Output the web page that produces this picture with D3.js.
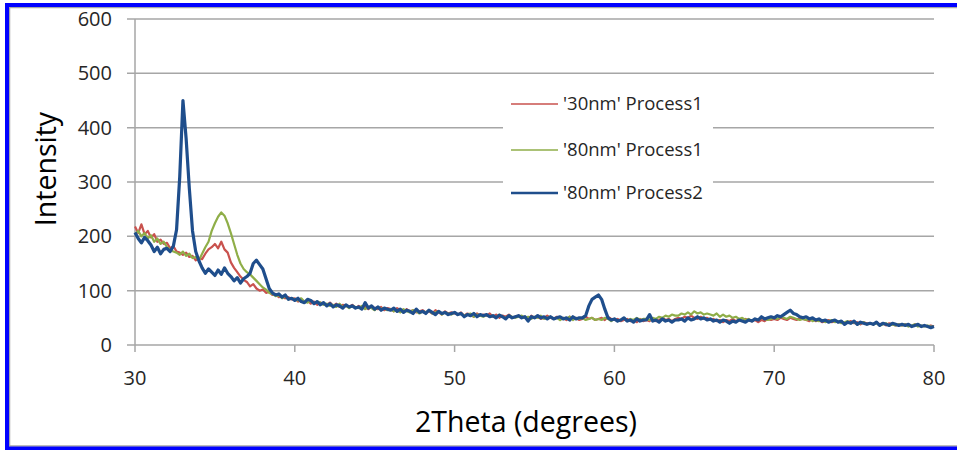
<!DOCTYPE html>
<html lang="en">
<head>
<meta charset="UTF-8">
<title>XRD Intensity</title>
<script src="https://d3js.org/d3.v7.min.js"></script>
<style>
  body { margin: 0; background: #fff; }
  svg { display: block; font-family: "Open Sans", Lato, sans-serif; }
  .grid line { stroke: #a6a6a6; stroke-width: 1.5px; }
  .tick-label { font-size: 20px; fill: #262626; }
  .axis-title { font-size: 28.5px; fill: #000; }
  .legend-label { font-size: 18.5px; fill: #262626; }
</style>
</head>
<body>
<svg id="chart" width="957" height="450"></svg>
<script>
// 2Theta grid: 30 .. 80 in steps of 0.2 degrees
const thetaStart = 30;
const thetaStep = 0.2;

const yTicks = [0, 100, 200, 300, 400, 500, 600];
const xTicks = [30, 40, 50, 60, 70, 80];

const seriesNames = ["'30nm' Process1", "'80nm' Process1", "'80nm' Process2"];

// '30nm' Process1
const red30p1 = [
  218, 206, 222, 204, 210, 198, 204, 190, 194, 186,
  188, 178, 182, 172, 170, 166, 170, 162, 164, 156,
  160, 158, 168, 176, 180, 186, 178, 190, 176, 170,
  152, 142, 134, 126, 120, 116, 108, 112, 104, 100,
  102, 96, 98, 92, 94, 88, 90, 86, 88, 84,
  86, 80, 84, 78, 82, 76, 80, 74, 78, 76,
  74, 78, 72, 76, 70, 74, 72, 70, 74, 68,
  72, 68, 70, 66, 72, 68, 66, 70, 64, 68,
  66, 62, 68, 64, 60, 66, 62, 64, 60, 62,
  64, 60, 62, 58, 64, 60, 56, 62, 58, 60,
  58, 56, 60, 54, 58, 56, 52, 58, 54, 56,
  54, 58, 52, 56, 50, 54, 52, 56, 50, 52,
  54, 50, 52, 48, 54, 50, 52, 48, 50, 54,
  50, 48, 52, 48, 50, 46, 52, 48, 50, 46,
  48, 52, 48, 50, 46, 48, 50, 46, 52, 48,
  46, 48, 44, 46, 48, 44, 46, 42, 48, 44,
  46, 44, 48, 44, 46, 50, 46, 48, 44, 48,
  50, 48, 52, 50, 54, 50, 48, 52, 48, 50,
  46, 48, 44, 46, 42, 46, 44, 48, 44, 46,
  44, 48, 46, 44, 46, 42, 46, 44, 48, 46,
  48, 46, 50, 48, 46, 50, 48, 46, 50, 48,
  46, 44, 48, 44, 46, 42, 44, 46, 42, 44,
  42, 44, 40, 42, 44, 40, 42, 38, 42, 40,
  40, 38, 42, 38, 40, 36, 40, 38, 36, 38,
  36, 38, 36, 34, 38, 36, 34, 36, 34, 36,
  34
];

// '80nm' Process1
const green80p1 = [
  204, 210, 200, 206, 196, 202, 190, 196, 186, 190,
  180, 176, 172, 170, 166, 172, 164, 168, 160, 162,
  156, 168, 180, 190, 210, 224, 236, 244, 238, 224,
  206, 186, 166, 150, 140, 134, 130, 124, 118, 112,
  106, 102, 96, 94, 90, 92, 86, 90, 84, 86,
  84, 82, 86, 80, 78, 82, 76, 80, 78, 74,
  76, 72, 74, 70, 76, 70, 72, 68, 72, 70,
  68, 72, 66, 70, 68, 64, 70, 66, 68, 64,
  66, 62, 64, 60, 66, 62, 60, 64, 62, 58,
  62, 60, 64, 58, 60, 62, 56, 60, 58, 56,
  60, 56, 58, 54, 56, 58, 52, 56, 54, 52,
  56, 52, 54, 50, 56, 52, 50, 54, 52, 50,
  52, 54, 50, 52, 48, 52, 50, 54, 48, 50,
  52, 48, 50, 46, 50, 48, 52, 46, 50, 48,
  50, 46, 48, 50, 46, 48, 46, 50, 48, 44,
  48, 44, 46, 50, 44, 48, 46, 50, 46, 48,
  48, 46, 50, 48, 52, 50, 54, 52, 56, 54,
  54, 58, 56, 60, 56, 62, 58, 60, 56, 58,
  56, 54, 58, 52, 56, 52, 54, 50, 52, 48,
  50, 46, 48, 44, 48, 46, 50, 48, 46, 48,
  50, 48, 52, 50, 48, 52, 50, 48, 46, 48,
  46, 48, 44, 46, 44, 46, 42, 44, 46, 42,
  44, 40, 42, 44, 40, 42, 38, 40, 42, 38,
  40, 38, 40, 36, 38, 40, 36, 38, 36, 38,
  36, 38, 34, 36, 38, 34, 36, 34, 36, 34,
  34
];

// '80nm' Process2
const blue80p2 = [
  207, 196, 188, 198, 192, 184, 172, 180, 168, 176,
  178, 172, 182, 212, 310, 450, 380, 288, 210, 172,
  155, 142, 132, 140, 134, 128, 138, 130, 142, 132,
  126, 118, 124, 114, 122, 126, 132, 150, 156, 148,
  140, 122, 104, 96, 92, 94, 88, 92, 84, 86,
  82, 86, 80, 78, 84, 82, 76, 80, 74, 78,
  72, 76, 70, 74, 72, 68, 74, 70, 72, 68,
  70, 66, 78, 68, 72, 66, 70, 64, 68, 66,
  64, 68, 62, 66, 60, 64, 62, 58, 66, 60,
  62, 58, 64, 60, 56, 62, 58, 60, 56, 58,
  60, 56, 58, 52, 56, 54, 58, 52, 56, 54,
  56, 52, 54, 50, 55, 52, 48, 54, 50, 52,
  54, 50, 52, 44, 52, 50, 54, 50, 52, 48,
  52, 48, 50, 52, 48, 50, 46, 52, 48, 50,
  50, 54, 72, 84, 88, 92, 84, 66, 50, 46,
  48, 44, 46, 50, 44, 46, 42, 48, 44, 46,
  46, 56, 44, 46, 42, 48, 44, 46, 42, 46,
  46, 48, 44, 50, 46, 48, 52, 48, 50, 46,
  48, 44, 46, 42, 46, 44, 40, 44, 42, 46,
  44, 42, 46, 44, 48, 46, 52, 48, 50, 52,
  50, 54, 52, 56, 60, 64, 58, 56, 52, 50,
  52, 48, 50, 46, 48, 44, 46, 42, 44, 46,
  42, 44, 38, 42, 40, 44, 38, 42, 40, 38,
  40, 38, 42, 36, 40, 38, 36, 40, 38, 36,
  38, 36, 38, 34, 36, 38, 34, 36, 34, 32,
  34
];

const colors = ["#c9524e", "#8fae48", "#1f4e8c"];
const widths = [2.2, 2.2, 3.2];

const svg = d3.select("#chart");
const margin = { top: 19, right: 23, bottom: 105, left: 135 };
const W = 957, H = 450;

const x = d3.scaleLinear().domain([30, 80]).range([margin.left, W - margin.right]);
const y = d3.scaleLinear().domain([0, 600]).range([H - margin.bottom, margin.top]);

// frame
svg.append("rect")
  .attr("x", 9.5).attr("y", 7.5).attr("width", 960).attr("height", 438.5)
  .attr("fill", "none").attr("stroke", "#a6a6a6").attr("stroke-width", 1.5);
svg.append("rect")
  .attr("x", 7).attr("y", 5).attr("width", 960).attr("height", 443.5)
  .attr("fill", "none").attr("stroke", "#0000ff").attr("stroke-width", 4);

// horizontal gridlines + y tick marks
const grid = svg.append("g").attr("class", "grid");
grid.selectAll("line.h")
  .data(yTicks)
  .enter().append("line")
  .attr("class", "h")
  .attr("x1", margin.left - 8).attr("x2", W - margin.right)
  .attr("y1", d => y(d)).attr("y2", d => y(d));

// y axis line
grid.append("line")
  .attr("x1", x(30)).attr("x2", x(30))
  .attr("y1", y(600)).attr("y2", y(0));

// x tick marks
grid.selectAll("line.xt")
  .data(xTicks)
  .enter().append("line")
  .attr("class", "xt")
  .attr("x1", d => x(d)).attr("x2", d => x(d))
  .attr("y1", y(0)).attr("y2", y(0) + 7);

// tick labels
svg.selectAll("text.ytl")
  .data(yTicks)
  .enter().append("text")
  .attr("class", "tick-label ytl")
  .attr("x", 112)
  .attr("y", d => y(d))
  .attr("dy", "0.35em")
  .attr("text-anchor", "end")
  .text(d => d);

svg.selectAll("text.xtl")
  .data(xTicks)
  .enter().append("text")
  .attr("class", "tick-label xtl")
  .attr("x", d => x(d))
  .attr("y", 378)
  .attr("dy", "0.35em")
  .attr("text-anchor", "middle")
  .text(d => d);

// axis titles
svg.append("text")
  .attr("class", "axis-title")
  .attr("x", 526).attr("y", 422)
  .attr("dy", "0.35em")
  .attr("text-anchor", "middle")
  .text("2Theta (degrees)");

svg.append("text")
  .attr("class", "axis-title")
  .attr("transform", "translate(46,169) rotate(-90)")
  .attr("dy", "0.35em")
  .attr("text-anchor", "middle")
  .text("Intensity");

// legend background (hides gridlines behind it)
const legendY = [104, 150, 193];
svg.append("rect")
  .attr("x", 503).attr("y", 86).attr("width", 210).attr("height", 124)
  .attr("fill", "#fff");

// series
const allSeries = [red30p1, green80p1, blue80p2];
const line = d3.line()
  .x((d, i) => x(thetaStart + i * thetaStep))
  .y(d => y(d));

svg.append("g")
  .selectAll("path")
  .data(allSeries)
  .enter().append("path")
  .attr("d", d => line(d))
  .attr("fill", "none")
  .attr("stroke", (d, i) => colors[i])
  .attr("stroke-width", (d, i) => widths[i])
  .attr("stroke-linejoin", "round");

// legend entries
const legend = svg.append("g");
const items = legend.selectAll("g")
  .data(seriesNames)
  .enter().append("g")
  .attr("transform", (d, i) => `translate(511,${legendY[i]})`);

items.append("line")
  .attr("x1", 0).attr("x2", 47)
  .attr("stroke", (d, i) => colors[i])
  .attr("stroke-width", (d, i) => widths[i] - 0.6);

items.append("text")
  .attr("class", "legend-label")
  .attr("x", 52)
  .attr("dy", "0.35em")
  .text(d => d);
</script>
</body>
</html>
